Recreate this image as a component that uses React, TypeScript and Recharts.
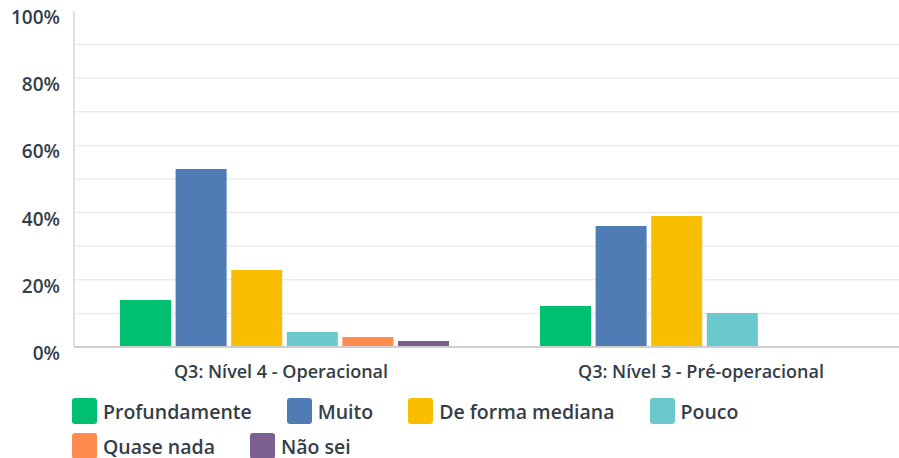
import React from 'react'
import { Bar, BarChart, CartesianGrid, XAxis, YAxis } from 'recharts'

const categories = ['Q3: Nível 4 - Operacional', 'Q3: Nível 3 - Pré-operacional']
const seriesNames = ['Profundamente', 'Muito', 'De forma mediana', 'Pouco', 'Quase nada', 'Não sei']
const profundamente = [14.0, 12.2]
const muito = [53.0, 36.0]
const mediana = [22.9, 39.0]
const pouco = [4.5, 10.1]
const quaseNada = [3.0, 0]
const naoSei = [1.8, 0]
const yTicks = [0, 10, 20, 30, 40, 50, 60, 70, 80, 90, 100]

const colors = ['#00bf6f', '#507cb6', '#f9be00', '#6bc8cd', '#ff8b4f', '#7d5e90']
const keys = ['p', 'm', 'd', 'po', 'q', 'n']
const textColor = '#333e48'
const font = '"Open Sans", sans-serif'

const data = categories.map((name, i) => ({
  name,
  p: profundamente[i],
  m: muito[i],
  d: mediana[i],
  po: pouco[i],
  q: quaseNada[i],
  n: naoSei[i],
}))

function YTick({ x, y, payload }: any) {
  if (payload.value % 20 !== 0) return null
  return (
    <text
      x={x - 12}
      y={y + 13}
      textAnchor="end"
      fill={textColor}
      fontFamily={font}
      fontWeight={600}
      fontSize={19}
    >
      {payload.value}%
    </text>
  )
}

function XTick({ x, y, payload }: any) {
  return (
    <text
      x={x - 3}
      y={y + 23}
      textAnchor="middle"
      fill={textColor}
      fontFamily={font}
      fontWeight={600}
      fontSize={18}
    >
      {payload.value}
    </text>
  )
}

// the survey chart has no rule at the 100% mark, only the axis
function GridLine(props: any) {
  if (props.y1 < 20) return null
  return <line x1={props.x1} y1={props.y1} x2={props.x2} y2={props.y2} stroke="#ececec" strokeWidth={1.5} />
}

export default function App() {
  return (
    <div style={{ position: 'absolute', left: 0, top: 0, width: 899, height: 458, overflow: 'hidden', background: '#fff' }}>
      <BarChart
        width={914}
        height={390}
        data={data}
        margin={{ top: 11, right: 0, bottom: 0, left: 0 }}
        barGap={4.6}
        barSize={51}
      >
        <CartesianGrid vertical={false} horizontal={(p: any) => <GridLine key={p.key} {...p} />} />
        <YAxis
          width={74}
          domain={[0, 100]}
          ticks={yTicks}
          interval={0}
          tickLine={false}
          tickSize={0}
          axisLine={{ stroke: '#d9d9d9', strokeWidth: 1.5 }}
          tick={<YTick />}
        />
        <XAxis
          dataKey="name"
          height={43}
          tickLine={false}
          axisLine={{ stroke: '#cfcfcf', strokeWidth: 2 }}
          tick={<XTick />}
        />
        {keys.map((k, i) => (
          <Bar key={k} dataKey={k} name={seriesNames[i]} fill={colors[i]} isAnimationActive={false} />
        ))}
      </BarChart>
      <div
        style={{
          position: 'absolute',
          left: 72,
          top: 398,
          width: 780,
          display: 'flex',
          flexWrap: 'wrap',
          rowGap: 9,
          fontFamily: font,
          fontWeight: 600,
          fontSize: 19.5,
          color: textColor,
        }}
      >
        {seriesNames.map((s, i) => (
          <div key={s} style={{ display: 'flex', alignItems: 'center', marginRight: 35, height: 26 }}>
            <span
              style={{
                display: 'inline-block',
                width: 25,
                height: 26,
                borderRadius: 3,
                background: colors[i],
                marginRight: 6,
              }}
            />
            <span>{s}</span>
          </div>
        ))}
      </div>
    </div>
  )
}
